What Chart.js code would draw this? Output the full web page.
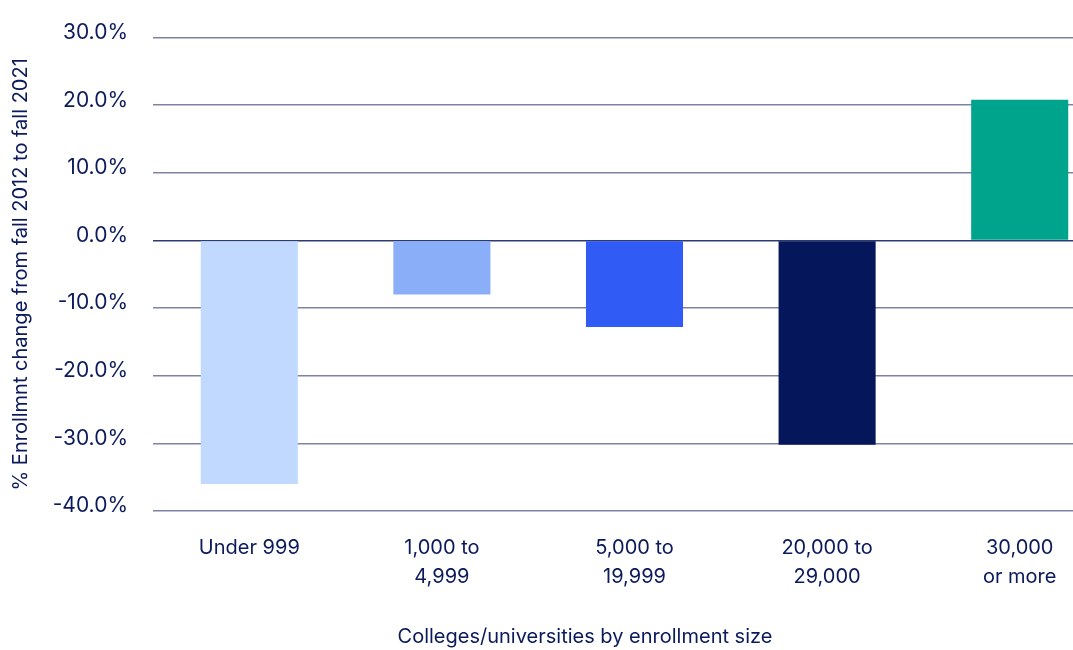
<!DOCTYPE html>
<html>
<head>
<meta charset="utf-8">
<script src="https://cdn.jsdelivr.net/npm/chart.js@4"></script>
<style>
  html, body { margin: 0; padding: 0; background: #ffffff; overflow: hidden; width: 1073px; height: 650px; }
  #wrap { position: absolute; left: 0; top: 0; width: 1116px; height: 650px; }
  #xTitle {
    position: absolute; top: 624px; left: 335px; width: 500px; text-align: center;
    font-family: Inter, "Noto Sans", sans-serif; font-size: 20px; line-height: 24px; color: #0b1a5b;
  }
</style>
</head>
<body>
<div id="wrap"><canvas id="enrollChart"></canvas></div>
<div id="xTitle">Colleges/universities by enrollment size</div>
<script>
// ==========================================
// Enrollment change by college size
// ==========================================

const categories = [
    "Under 999",
    ["1,000 to", "4,999"],
    ["5,000 to", "19,999"],
    ["20,000 to", "29,000"],
    ["30,000", "or more"]
];

const changeValues = [-36.0, -8.0, -12.8, -30.2, 20.8];

const barColors = ["#C2D9FF", "#8AAEF8", "#305CF5", "#05175A", "#00A38C"];

const yMin = -40;
const yMax = 30;
const yStep = 10;

const textColor = "#0b1a5b";

new Chart(

    document.getElementById("enrollChart"),

    {
        type: "bar",

        data: {
            labels: categories,
            datasets: [{
                data: changeValues,
                backgroundColor: barColors,
                borderWidth: 0,
                categoryPercentage: 1,
                barPercentage: 0.504
            }]
        },

        options: {
            responsive: true,
            maintainAspectRatio: false,
            animation: false,
            layout: {
                padding: { top: 33, right: 0, bottom: 0, left: 0 }
            },
            plugins: {
                legend: { display: false },
                tooltip: { enabled: false }
            },
            scales: {
                x: {
                    offset: true,
                    grid: { display: false, drawTicks: false },
                    border: { display: false },
                    ticks: {
                        color: textColor,
                        padding: 22,
                        maxRotation: 0,
                        font: { family: "Inter", size: 20, lineHeight: 1.45 }
                    },
                    afterFit: (scale) => { scale.height = 139; }
                },
                y: {
                    min: yMin,
                    max: yMax,
                    grid: {
                        drawTicks: false,
                        lineWidth: 1.5,
                        color: (ctx) => ctx.tick && ctx.tick.value === 0 ? "#2e3a72" : "#7c83a6"
                    },
                    border: { display: false },
                    ticks: {
                        stepSize: yStep,
                        color: textColor,
                        padding: 25,
                        labelOffset: -5,
                        font: { family: "Inter", size: 21 },
                        callback: (v) => v.toFixed(1) + "%"
                    },
                    title: {
                        display: true,
                        text: "% Enrollmnt change from fall 2012 to fall 2021",
                        color: textColor,
                        padding: 9,
                        font: { family: "Inter", size: 20 }
                    },
                    afterFit: (scale) => { scale.width = 153; }
                }
            }
        }
    }

);
</script>
</body>
</html>
